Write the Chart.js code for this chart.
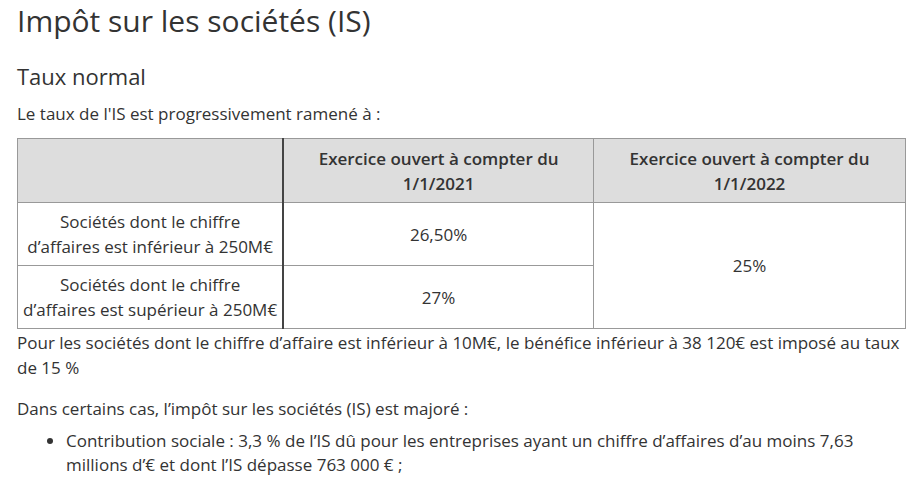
<!DOCTYPE html>
<html><head><meta charset="utf-8">
<script src="https://cdn.jsdelivr.net/npm/chart.js@4"></script>
<style>
body{margin:0;font-family:"Open Sans",sans-serif;color:#333;background:#fff;}
#wrap{position:relative;width:922px;height:492px;overflow:hidden;}
h1{position:absolute;left:17px;top:0px;margin:0;font-weight:400;font-size:30px;}
h2{position:absolute;left:17px;top:61px;margin:0;font-weight:400;font-size:22px;}
.p{position:absolute;left:17px;font-size:17px;line-height:25px;margin:0;}
table{position:absolute;left:17px;top:138px;border-collapse:collapse;width:889px;font-size:17px;}
td,th{border:1px solid #999;text-align:center;line-height:25px;padding:0;}
th{background:#ddd;font-weight:600;height:63px;}
td{height:62px;}
.c1{width:265px;border-right:2px solid #444;}
ul{position:absolute;left:30px;top:429px;margin:0;padding-left:36px;font-size:17px;line-height:24px;width:840px;}
</style></head><body>
<div id="wrap">
<h1 id="t"></h1><h2 id="st"></h2>
<p class="p" id="intro" style="top:101px"></p>
<table id="tbl"></table>
<p class="p" id="n1" style="top:330px;width:885px"></p>
<p class="p" id="n2" style="top:396px"></p>
<ul id="ul"></ul>
<canvas id="c" width="1" height="1" style="position:absolute;left:0;top:0;width:1px;height:1px"></canvas>
</div>
<script>
const title="Impôt sur les sociétés (IS)";
const subtitle="Taux normal";
const intro="Le taux de l'IS est progressivement ramené à :";
const headers=["","Exercice ouvert à compter du<br>1/1/2021","Exercice ouvert à compter du<br>1/1/2022"];
const categories=["Sociétés dont le chiffre<br>d’affaires est inférieur à 250M€","Sociétés dont le chiffre<br>d’affaires est supérieur à 250M€"];
const rates2021=["26,50%","27%"];
const rate2022="25%";
const note1="Pour les sociétés dont le chiffre d’affaire est inférieur à 10M€, le bénéfice inférieur à 38 120€ est imposé au taux de 15 %";
const note2="Dans certains cas, l’impôt sur les sociétés (IS) est majoré :";
const bullets=["Contribution sociale : 3,3 % de l’IS dû pour les entreprises ayant un chiffre d’affaires d’au moins 7,63 millions d’€ et dont l’IS dépasse 763 000 € ;"];
document.getElementById('t').textContent=title;
document.getElementById('st').textContent=subtitle;
document.getElementById('intro').textContent=intro;
document.getElementById('n1').textContent=note1;
document.getElementById('n2').textContent=note2;
document.getElementById('ul').innerHTML=bullets.map(b=>'<li>'+b+'</li>').join('');
let h='<tr>'+headers.map((x,i)=>'<th'+(i==0?' class="c1"':'')+' style="width:'+(i==0?265:i==1?310:312)+'px">'+x+'</th>').join('')+'</tr>';
categories.forEach((c,i)=>{h+='<tr><td class="c1">'+c+'</td><td>'+rates2021[i]+'</td>'+(i==0?'<td rowspan="2">'+rate2022+'</td>':'')+'</tr>';});
document.getElementById('tbl').innerHTML=h;
new Chart(document.getElementById('c'),{type:'bar',data:{labels:[],datasets:[]},options:{responsive:false,animation:false,plugins:{legend:{display:false}},scales:{x:{display:false},y:{display:false}}}});
</script>
</body></html>
